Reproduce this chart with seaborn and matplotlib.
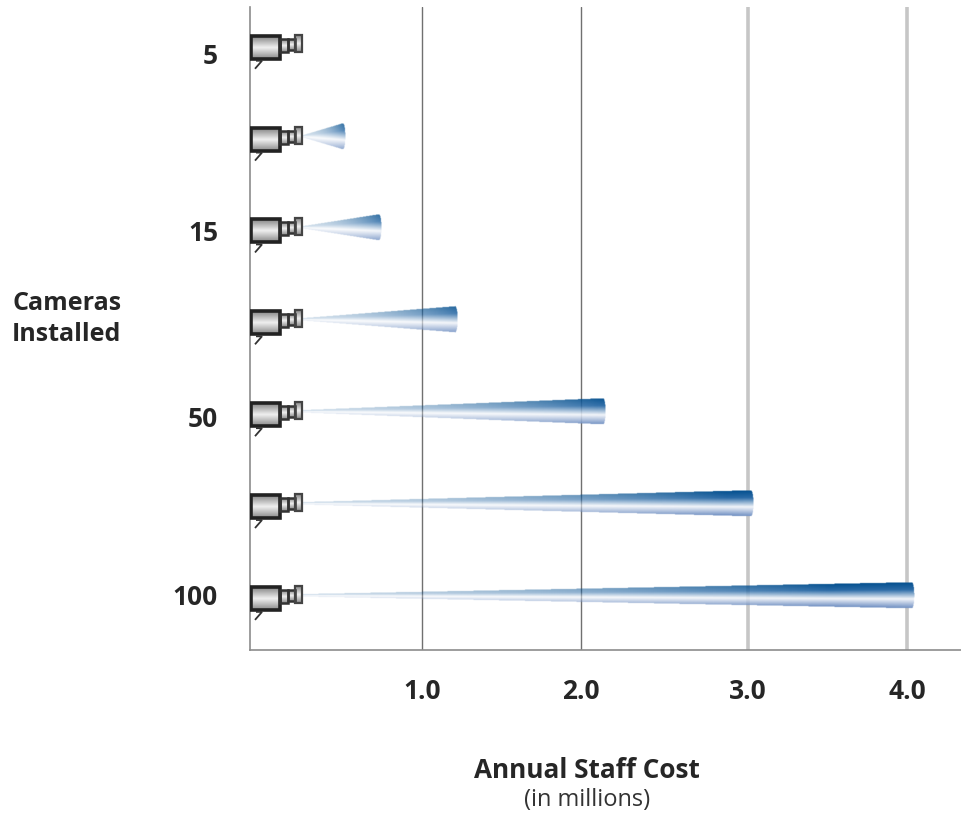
import numpy as np
import pandas as pd
import seaborn as sns
import matplotlib.pyplot as plt
from matplotlib.colors import LinearSegmentedColormap
from matplotlib.patches import Rectangle, Polygon

# values
cameras = ["5", "10", "15", "25", "50", "75", "100"]
staff_cost = [0.0, 0.55, 0.76, 1.22, 2.14, 3.03, 4.04]
x_ticks = [1.0, 2.0, 3.0, 4.0]
x_tick_labels = ["1.0", "2.0", "3.0", "4.0"]
y_tick_rows = [0.109, 2.03, 4.06, 6.0]
y_tick_labels = ["5", "15", "50", "100"]

sns.set_style("white")
plt.rcParams["font.family"] = ["Open Sans", "DejaVu Sans"]
TEXT = "#262626"

W, H = 961, 814
fig = plt.figure(figsize=(W / 100, H / 100), dpi=100)
box = [250 / W, 1 - 650 / H, (W - 250) / W, (650 - 7) / H]
ax = fig.add_axes(box)

df = pd.DataFrame({"cameras": cameras, "cost": staff_cost})
sns.barplot(data=df, x="cost", y="cameras", order=cameras, orient="h", ax=ax, color="#0a5a96")

# the printed axis is not quite even, so the scale follows the tick positions
knots_val = [0, 1, 2, 3, 4, 4.33]
knots_px = [0, 172, 331, 498, 657, 711]
ax.set_xscale("function", functions=(lambda v: np.interp(v, knots_val, knots_px),
                                     lambda p: np.interp(p, knots_px, knots_val)))
ax.set_xlim(0, 4.33)
ax.set_ylim(6.60, -0.40)

ax.set_xticks(x_ticks, x_tick_labels, fontsize=19, fontweight="bold", color=TEXT)
ax.set_yticks(y_tick_rows, y_tick_labels, fontsize=19, fontweight="bold", color=TEXT)
ax.tick_params(axis="x", length=0, pad=20)
ax.tick_params(axis="y", length=0, pad=23)
ax.set_xlabel("")
ax.set_ylabel("")
sns.despine(ax=ax)
for s in ["left", "bottom"]:
    ax.spines[s].set_color("#8c8c8c")
    ax.spines[s].set_linewidth(1.2)

for v, c, lw in zip(x_ticks, ["#707070", "#707070", "#c6c6c6", "#c6c6c6"], [1.0, 1.0, 2.6, 2.6]):
    ax.axvline(v, color=c, lw=lw, zorder=0)

# overlay in pixel units for the cones and the little cameras
ov = fig.add_axes(box)
ov.axis("off")
ov.patch.set_alpha(0)

cone_cmap = LinearSegmentedColormap.from_list(
    "cone", [(0, "#04508f"), (0.28, "#2a6aa6"), (0.64, "#f2f5fa"), (1, "#6f8fc2")])
body_cmap = LinearSegmentedColormap.from_list(
    "body", [(0, "#858585"), (0.5, "#f0f0f0"), (1, "#8a8a8a")])


def draw_cone(x_end, yc, tip=303, half=13):
    x0, x1 = tip, x_end + 3
    y0, y1 = yc - half - 1, yc + half + 1
    xs = np.arange(x0, x1, 0.5)
    ys = np.arange(y0, y1, 0.5)
    xx, yy = np.meshgrid(xs, ys)
    span = (xx - tip) / (x_end - tip)
    # a little thickness right at the tip so long cones do not vanish
    h = np.maximum(half * span, 0.01) + 1.2 * (1 - span)
    t = (yy - yc) / h
    img = cone_cmap((np.clip(t, -1, 1) + 1) / 2)
    fade = np.clip(0.2 + 0.45 * (xx - tip) / 610 + 0.55 * span ** 2, 0, 1)
    inside = np.abs(t) <= 1
    cap = xx <= x_end + 2.5 * np.sqrt(np.clip(1 - t ** 2, 0, 1))
    img[..., 3] = fade * inside * cap
    ov.imshow(img, extent=(x0, x1, y1, y0), aspect="auto", interpolation="bilinear", zorder=4)


def draw_camera(yc):
    g = np.linspace(0, 1, 40).reshape(-1, 1)
    ov.imshow(g, cmap=body_cmap, extent=(251, 280, yc + 15, yc - 8), aspect="auto", zorder=5)
    ov.add_patch(Rectangle((251, yc - 8), 29, 23, fill=False, ec="#222222", lw=2.6, zorder=6))
    ov.imshow(g, cmap=body_cmap, extent=(280, 288, yc + 8, yc - 5), aspect="auto", zorder=5)
    ov.add_patch(Rectangle((280, yc - 5), 8, 13, fill=False, ec="#333333", lw=1.8, zorder=6))
    ov.imshow(g, cmap=body_cmap, extent=(288, 295, yc + 6, yc - 5), aspect="auto", zorder=5)
    ov.add_patch(Rectangle((288, yc - 5), 7, 11, fill=False, ec="#333333", lw=1.8, zorder=6))
    ov.imshow(g, cmap=body_cmap, extent=(295, 302, yc + 8, yc - 9), aspect="auto", zorder=5)
    ov.add_patch(Rectangle((295, yc - 9), 7, 17, fill=False, ec="#444444", lw=1.6, zorder=6))
    ov.add_patch(Polygon([(256, yc + 17), (262, yc + 17), (255, yc + 25)], closed=False,
                         fill=False, ec="#333333", lw=1.3, zorder=6))


ov.set_xlim(250, W)
ov.set_ylim(650, 7)
fig.canvas.draw()
to_px = ov.transData.inverted()

for bar, cost in zip(ax.patches, staff_cost):
    yc_row = bar.get_y() + bar.get_height() / 2
    px, py = to_px.transform(ax.transData.transform((cost, yc_row)))
    bar.set_visible(False)
    draw_camera(py)
    if cost > 0:
        draw_cone(px - 2, py)

ov.set_xlim(250, W)
ov.set_ylim(650, 7)

fig.text(12 / W, 1 - 319 / H, "Cameras\nInstalled", fontsize=18, fontweight="bold", color=TEXT,
         ha="left", va="center", linespacing=1.32)
fig.text(587 / W, 1 - 770 / H, "Annual Staff Cost", fontsize=18.8, fontweight="bold", color=TEXT,
         ha="center", va="center")
fig.text(587 / W, 1 - 800 / H, "(in millions)", fontsize=17, color="#333333", ha="center", va="center")

fig.savefig("out.png", dpi=100, facecolor="white")
